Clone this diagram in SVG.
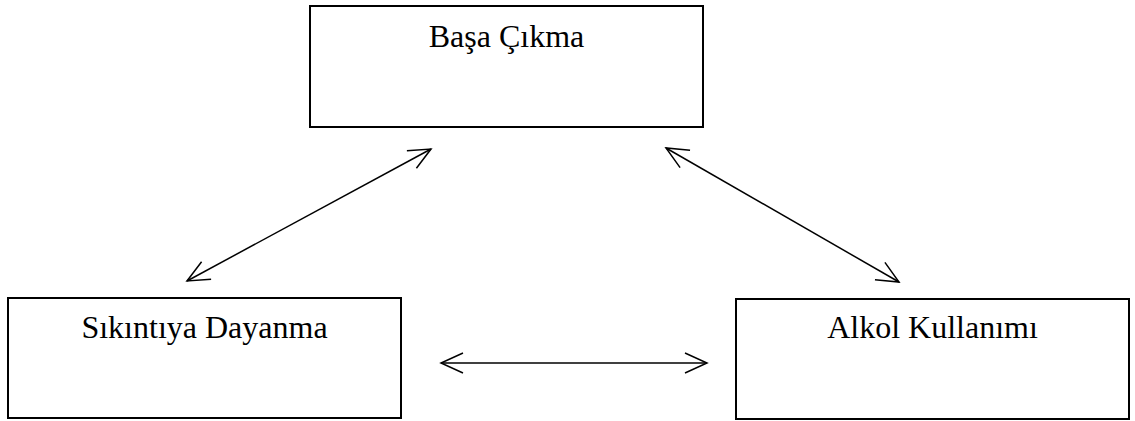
<svg xmlns="http://www.w3.org/2000/svg" width="1135" height="421" viewBox="0 0 1135 421">
<style>
.box{fill:#fff;stroke:#000;stroke-width:2}
.lbl{font-family:"Liberation Serif","Times New Roman",serif;font-size:32px;fill:#000;text-anchor:middle}
.conn{fill:none;stroke:#000;stroke-width:1.5;marker-start:url(#ah);marker-end:url(#ah)}
</style>
<defs>
<marker id="ah" markerUnits="userSpaceOnUse" viewBox="-24 -12 26 24" refX="0" refY="0" markerWidth="26" markerHeight="24" orient="auto-start-reverse" overflow="visible">
<path d="M-22,-10 L0,0 L-22,10" fill="none" stroke="#000" stroke-width="1.5"/>
</marker>
</defs>
<rect width="1135" height="421" fill="#fff"/>
<g id="node-basa-cikma">
<rect class="box" x="310" y="6" width="393" height="121"/>
<text class="lbl" x="506.5" y="47">Başa Çıkma</text>
</g>
<g id="node-sikintiya-dayanma">
<rect class="box" x="8" y="298" width="393" height="120"/>
<text class="lbl" x="204.5" y="338">Sıkıntıya Dayanma</text>
</g>
<g id="node-alkol-kullanimi">
<rect class="box" x="736" y="299" width="393" height="120"/>
<text class="lbl" x="932.5" y="338">Alkol Kullanımı</text>
</g>
<g id="connectors">
<line class="conn" x1="187" y1="281" x2="431" y2="149"/>
<line class="conn" x1="666" y1="148" x2="899" y2="282"/>
<line class="conn" x1="441" y1="363" x2="707" y2="363"/>
</g>
</svg>
